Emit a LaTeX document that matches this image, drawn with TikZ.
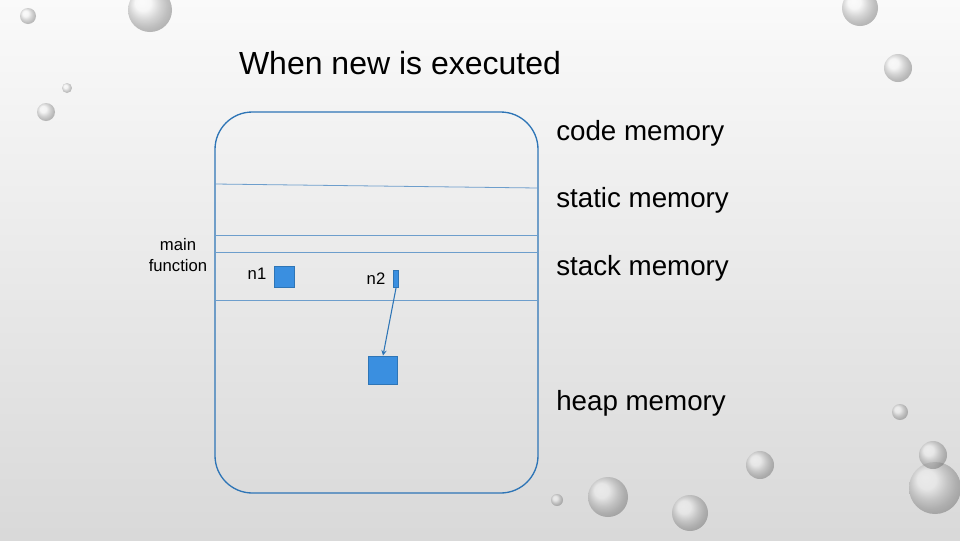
\documentclass[tikz,border=0pt]{standalone}
\usepackage{fontspec}
\setmainfont{Liberation Sans}
\usetikzlibrary{positioning}
\definecolor{memblue}{HTML}{2E75B6}
\definecolor{boxfill}{HTML}{3A8FE0}
\tikzset{
  lbl/.style={font=\fontsize{20.8}{23}\selectfont, anchor=west, inner sep=0pt},
  sep/.style={draw=memblue!70, line width=0.6pt},
  cell/.style={draw=memblue, fill=boxfill, line width=0.6pt, inner sep=0pt},
  drop/.style={ball color=gray!12, opacity=0.45}
}
\begin{document}
\begin{tikzpicture}[x=0.75pt, y=-0.75pt]
  \useasboundingbox (0,0) rectangle (960,540);
  \shade[top color=gray!4, bottom color=gray!30] (0,0) rectangle (960,540);
  % droplets
  \foreach \cx/\cy/\r in {150/10/22, 860/8/18, 898/68/14, 46/112/9, 67/88/5, 608/497/20, 690/513/18, 760/465/14, 935/488/26, 933/455/14, 900/412/8, 557/500/6, 28/16/8}
    \shade[drop] (\cx,\cy) circle (\r);

  \node[font=\fontsize{24}{27}\selectfont] (title) at (400,63) {When new is executed};

  % memory block
  \draw[memblue, line width=1pt, rounded corners=28pt] (215,112) rectangle (538,493);
  \coordinate (codeL) at (215,184); \coordinate (codeR) at (538,188);
  \draw[sep] (codeL) -- (codeR);
  \draw[sep] (215,235) -- (538,235);
  \draw[sep] (215,252) -- (538,252);
  \draw[sep] (215,300) -- (538,300);

  \node[lbl] (code) at (556,133) {code memory};
  \node[lbl] (static) at (556,200) {static memory};
  \node[lbl] (stack) at (556,268) {stack memory};
  \node[lbl] (heap) at (556,403) {heap memory};

  \node[font=\fontsize{12.5}{15.5}\selectfont, align=center] (mainfn) at (178,255) {main\\function};

  \node[font=\fontsize{12.5}{14}\selectfont] (n1) at (257,274) {n1};
  \node[cell, minimum width=15pt, minimum height=16pt] (n1box) at (284,277) {};
  \node[font=\fontsize{12.5}{14}\selectfont] (n2) at (376,279) {n2};
  \node[cell, minimum width=4pt, minimum height=13pt] (n2box) at (396,279) {};
  \node[cell, minimum width=22pt, minimum height=21pt] (obj) at (383,370) {};

  \draw[memblue, line width=0.8pt, -stealth] (n2box.south) -- (obj.north);
\end{tikzpicture}
\end{document}
